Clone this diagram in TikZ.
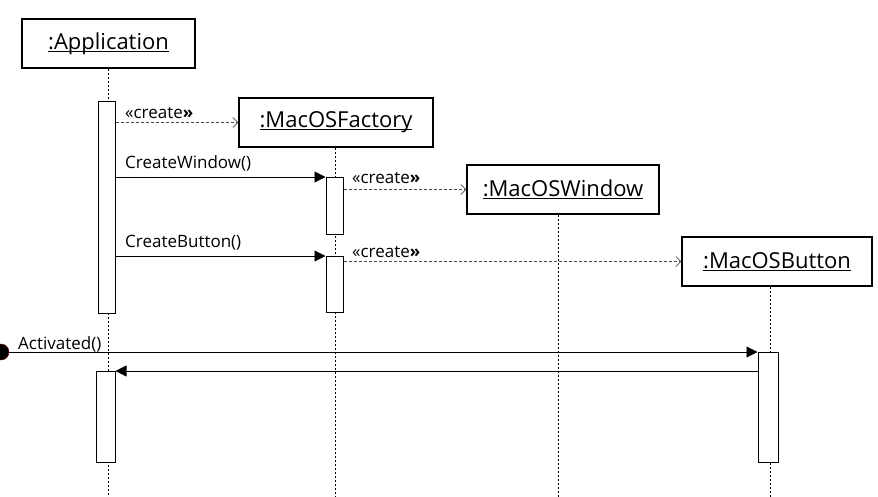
\documentclass[tikz,border=0pt]{standalone}
\usepackage{fontspec}
\setmainfont{Open Sans}
\usetikzlibrary{arrows.meta}

\newcommand\ulname[1]{\setbox0\hbox{#1}\rlap{\rule[-2.5pt]{\wd0}{0.9pt}}\box0}

\tikzset{
    obj/.style={draw, line width=1.2pt, minimum height=49pt, inner sep=0pt,
        font=\fontsize{22}{26}\selectfont},
    act/.style={draw, fill=white, line width=1pt, minimum width=17pt,
        inner sep=0pt, anchor=north},
    lifeline/.style={line width=0.8pt, dash pattern=on 2pt off 2pt},
    call/.style={line width=0.8pt, -{Triangle[length=11pt,width=11pt]}},
    create/.style={line width=0.7pt, black!70, dash pattern=on 3pt off 2pt,
        -{Straight Barb[length=5pt,width=10pt]}},
    msg/.style={anchor=base west, inner sep=0pt, font=\fontsize{17}{20}\selectfont},
}

\begin{document}
\begin{tikzpicture}[x=1pt, y=-1pt]
    \useasboundingbox (0,0) rectangle (878,496);

    % objects
    \node[obj, minimum width=173pt] (app) at (108.5,43.5) {\ulname{:Application}};
    \node[obj, minimum width=194pt] (fac) at (336,122.5) {\ulname{:MacOSFactory}};
    \node[obj, minimum width=192pt] (win) at (563,189.5) {\ulname{:MacOSWindow}};
    \node[obj, minimum width=190pt] (btn) at (777,261.5) {\ulname{:MacOSButton}};

    % lifelines
    \draw[lifeline] (app.south) -- ++(0,428);
    \draw[lifeline] ([xshift=-1pt]fac.south) -- ++(0,349);
    \draw[lifeline] ([xshift=-5pt]win.south) -- ++(0,282);
    \draw[lifeline] ([xshift=-7pt]btn.south) -- ++(0,210);

    % activations
    \node[act, minimum height=212pt] (a1) at (106.5,101) {};
    \node[act, minimum height=91pt, minimum width=19pt] (a2) at (105.5,371) {};
    \node[act, minimum height=57pt] (f1) at (334.5,177) {};
    \node[act, minimum height=56pt] (f2) at (334.5,256) {};
    \node[act, minimum height=110pt, minimum width=20pt] (b1) at (768,352) {};

    % messages
    \draw[create] (a1.east |- fac.west) -- (fac.west);
    \draw[call] (a1.east |- f1.north west) -- (f1.north west);
    \draw[create] (f1.east |- win.west) -- (win.west);
    \draw[call] (a1.east |- f2.north west) -- (f2.north west);
    \draw[create] (f2.east |- btn.west) -- (btn.west);

    \node[circle, fill=black, draw=red!40!black, minimum size=16pt,
        inner sep=0pt] (found) at (1,352) {};
    \draw[call] (found) -- (b1.north west);
    \draw[call] (b1.west |- a2.north east) -- (a2.north east);

    % labels
    \node[msg] at (125,118) {«create\textbf{»}};
    \node[msg] at (125,168) {CreateWindow()};
    \node[msg] at (352,183) {«create\textbf{»}};
    \node[msg] at (125,247) {CreateButton()};
    \node[msg] at (352,257) {«create\textbf{»}};
    \node[msg] at (18,349) {Activated()};
\end{tikzpicture}
\end{document}
